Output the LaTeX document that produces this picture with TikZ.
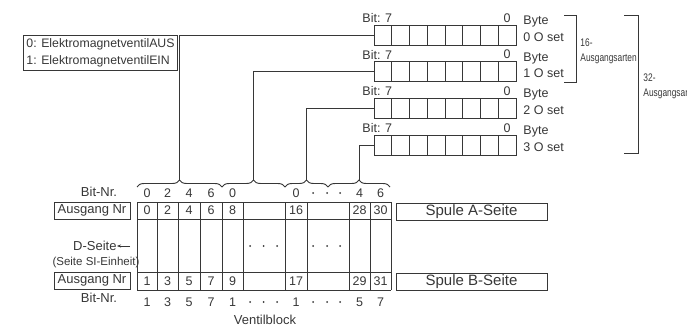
\documentclass[tikz,border=0pt]{standalone}
\usepackage{fontspec}
\setmainfont{Liberation Sans}
\newfontfamily\narrowfont[FakeStretch=0.76]{Liberation Sans}
\usetikzlibrary{decorations.pathreplacing, arrows.meta, math}
\definecolor{mygray}{RGB}{55,55,55}

\begin{document}
\begin{tikzpicture}[x=1pt, y=-1pt, line width=0.95pt, color=mygray,
  lbl/.style={font=\fontsize{12.5}{15}\selectfont, inner sep=0pt},
  side/.style={font=\fontsize{13}{15}\selectfont, inner sep=0pt},
  cellbox/.style={draw, inner sep=0pt, minimum height=17},
  brace/.style={decorate, decoration={brace, amplitude=7pt}},
  narrow/.style={font=\narrowfont\fontsize{11}{13}\selectfont, inner sep=0pt, anchor=west}]
\tikzmath{
\regx=374;
\cw=17.75;
\rh=20;
\rs=36.67;
}
\useasboundingbox (0,0) rectangle (687,326);

% byte registers
\foreach \rr in {0,...,3}{
  \pgfmathsetmacro\ry{25+\rr*\rs}
  \foreach \cc in {0,...,7} \draw (\regx+\cc*\cw,\ry) rectangle +(\cw,\rh);
  \coordinate (reg\rr) at (\regx,\ry+\rh/2);
  \node[lbl, anchor=west] (bit\rr) at (362,\ry-7) {Bit: 7};
  \node[lbl] (zero\rr) at (507,\ry-7) {0};
  \node[lbl, anchor=west] (byte\rr) at (523,\ry-3.5) {Byte};
  \node[lbl, anchor=west] (oset\rr) at (523,\ry+12) {\rr{} O set};
}

% brackets
\draw (564,15) -- (576,15) -- (576,82) -- (564,82);
\draw (624,15) -- (638,15) -- (638,153) -- (624,153);
\node[narrow] (n16) at (580,43) {16-};
\node[narrow] (a16) at (580,59) {Ausgangsarten};
\node[narrow] (n32) at (643,78) {32-};
\node[narrow] (a32) at (643,94) {Ausgangsar};

% legend
\node[draw, align=left, anchor=north west, inner xsep=3pt, inner ysep=3.5pt,
  font=\fontsize{12.3}{17}\selectfont] (legend) at (23,35)
  {0: ElektromagnetventilAUS\\1: ElektromagnetventilEIN};

% braces and lines to the registers
\foreach \xa/\xb/\nn in {137/222/0, 222/285/1, 285/328/2, 328/390/3}{
  \draw[brace] (\xa,187) -- (\xb,187);
  \coordinate (tip\nn) at ({(\xa+\xb)/2},180);
  \draw (reg\nn) -| (tip\nn);
}

% valve block
\foreach \x in {137,157,178,200,222,243,285,307,349,370,391} \draw (\x,202) -- (\x,290);
\foreach \y in {202,219,272,290} \draw (137,\y) -- (391,\y);

\foreach \x/\ta/\tb in {147/0/1, 167.5/2/3, 189/4/5, 211/6/7, 232.5/8/9, 296/16/17, 359.5/28/29, 380.5/30/31}{
  \node[lbl] (out\ta) at (\x,210.5) {\ta};
  \node[lbl] (out\tb) at (\x,281) {\tb};
}
\foreach \x/\ba/\bb [count=\i] in {147/0/1, 167.5/2/3, 189/4/5, 211/6/7, 232.5/0/1, 296/0/1, 359.5/4/5, 380.5/6/7}{
  \node[lbl] (bta\i) at (\x,193) {\ba};
  \node[lbl] (btb\i) at (\x,302) {\bb};
}
\foreach \x in {313,327,340} \fill (\x,193) circle (1);
\foreach \x in {250,263.5,277,313,327,340}{
  \fill (\x,246) circle (1);
  \fill (\x,302) circle (1);
}

% left side
\node[side] (bitnrA) at (99,192) {Bit-Nr.};
\node[side, cellbox, minimum width=76] (ausA) at (92,210.5) {Ausgang Nr};
\node[side, anchor=east] (dseite) at (117,246) {D-Seite};
\coordinate (dstart) at (130,246);
\draw[-{Stealth[length=4pt, width=3pt]}, line width=0.5pt] (dstart) -- (dseite.east);
\node[font=\fontsize{11.5}{13}\selectfont, inner sep=0pt] (siein) at (96,263) {(Seite SI-Einheit)};
\node[side, cellbox, minimum width=76] (ausB) at (92,280.5) {Ausgang Nr};
\node[side] (bitnrB) at (99,298) {Bit-Nr.};

% right side
\node[cellbox, minimum width=151, font=\fontsize{15}{17}\selectfont] (spA) at (471.5,211.5) {Spule A-Seite};
\node[cellbox, minimum width=151, font=\fontsize{15}{17}\selectfont] (spB) at (471.5,281.5) {Spule B-Seite};

\node[side] (block) at (265,320) {Ventilblock};
\end{tikzpicture}
\end{document}
